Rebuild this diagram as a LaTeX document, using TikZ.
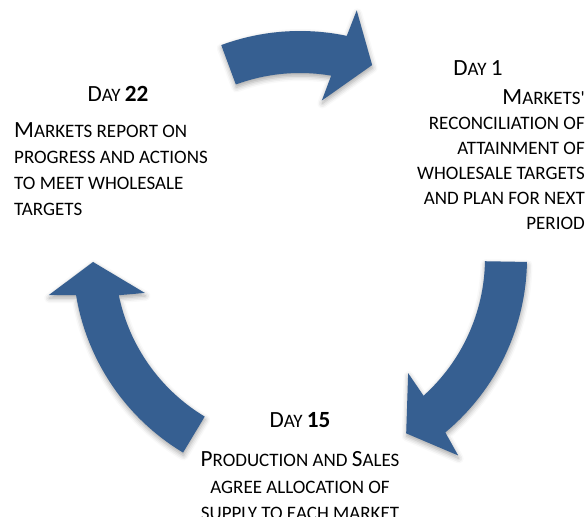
\documentclass[tikz,border=0pt]{standalone}
\usepackage{fontspec}
\setmainfont{Carlito}
\usetikzlibrary{shadows.blur}
\definecolor{cycleblue}{RGB}{54,95,145}
% small-caps look: capitals at full size, the rest as smaller capitals
\newcommand\bigsz{\fontsize{23.2}{26}\selectfont}
\newcommand\smsz{\fontsize{19}{26}\selectfont}
\newcommand\Cap[1]{{\bigsz #1}}
\begin{document}
\begin{tikzpicture}[x=1pt,y=1pt,
  arrowband/.style={fill=cycleblue, draw=none,
    blur shadow={shadow xshift=0.5pt, shadow yshift=-3pt,
                 shadow blur radius=5pt, shadow opacity=35}},
  txt/.style={font=\smsz, inner sep=0pt, text=black}]
\useasboundingbox (0,0) rectangle (587,517);
\clip (0,0) rectangle (587,517);

% the three curved arrows of the cycle, all around one centre
\coordinate (C) at (300,259);
\begin{scope}[shift={(C)}]
  % top: Day 22 -> Day 1
  \path[arrowband] (110.3:227) arc[start angle=110.3, end angle=78.1, radius=227]
    -- (77.1:254) -- (69.5:206) -- (82.1:159) -- (80.3:185)
    arc[start angle=80.3, end angle=110.3, radius=185] -- cycle;
  % right: Day 1 -> Day 15
  \path[arrowband] (-1:227) arc[start angle=-1, end angle=-50.2, radius=227]
    -- (-51.3:253) -- (-58.8:205) -- (-46.8:158) -- (-48.1:185)
    arc[start angle=-48.1, end angle=-1, radius=185] -- cycle;
  % left: Day 15 -> Day 22
  \path[arrowband] (239:227) arc[start angle=239, end angle=189.4, radius=227]
    -- (188.4:254) -- (181.1:207) -- (192.7:159) -- (191.6:185)
    arc[start angle=191.6, end angle=239, radius=185] -- cycle;
\end{scope}

% Day 22
\node[txt, anchor=base] (day22) at (118,415) {\Cap{D}AY \Cap{\bfseries 22}};
\foreach \t [count=\i] in {\Cap{M}ARKETS REPORT ON, PROGRESS AND ACTIONS,
    TO MEET WHOLESALE, TARGETS}
  \node[txt, anchor=base west] (left\i) at (14,{379-26*(\i-1)}) {\t};

% Day 1
\node[txt, anchor=base] (day1) at (478,441) {\Cap{D}AY \Cap{1}};
\foreach \t [count=\i] in {\Cap{M}ARKETS\textquotesingle, RECONCILIATION OF,
    ATTAINMENT OF, WHOLESALE TARGETS, AND PLAN FOR NEXT, PERIOD}
  \node[txt, anchor=base east] (right\i) at (585,{412-25*(\i-1)}) {\t};

% Day 15
\node[txt, anchor=base] (day15) at (300,89) {\Cap{D}AY \Cap{\bfseries 15}};
\foreach \t [count=\i] in {\Cap{P}RODUCTION AND \Cap{S}ALES, AGREE ALLOCATION OF,
    SUPPLY TO EACH MARKET}
  \node[txt, anchor=base] (bottom\i) at (300,{50-26.5*(\i-1)}) {\t};
\end{tikzpicture}
\end{document}
